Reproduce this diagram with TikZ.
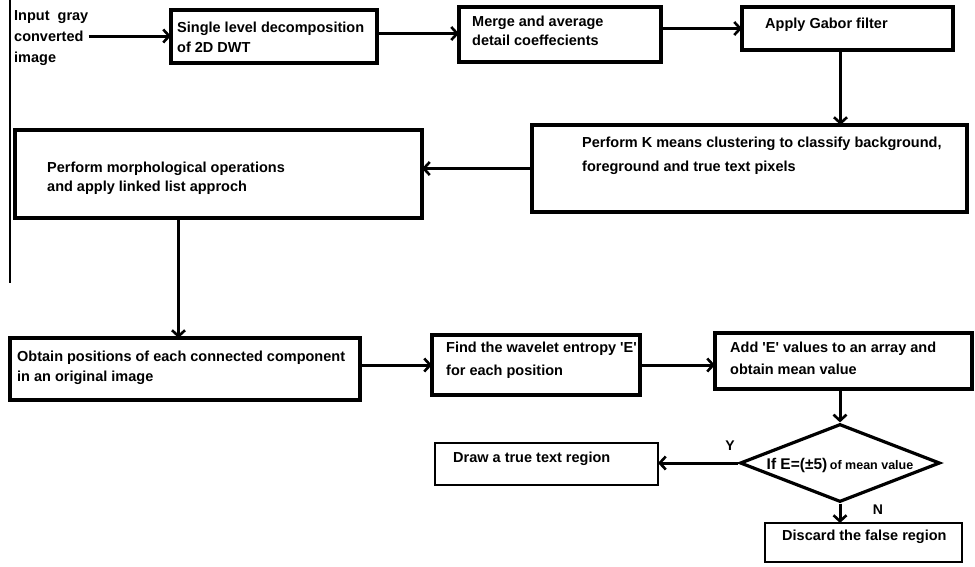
\documentclass[tikz,border=0pt]{standalone}
\usepackage{fontspec}
\setmainfont{Liberation Sans}
\usetikzlibrary{arrows.meta,shapes.geometric,calc}
\begin{document}
\begin{tikzpicture}[x=1pt,y=-1pt,
  box/.style={draw,line width=3.2pt,rectangle,inner sep=0pt,outer sep=0pt,anchor=north west},
  thinbox/.style={box,line width=2.4pt},
  txt/.style={anchor=north west,inner sep=0pt,align=left,font=\fontsize{14.5}{20}\selectfont\bfseries},
  conn/.style={line width=3pt,-{Straight Barb[length=6pt,width=13pt,line width=2.6pt]}},
  lbl/.style={inner sep=0pt,font=\fontsize{14}{16}\selectfont\bfseries}
]
\useasboundingbox (0,0) rectangle (975,566);

% left edge line
\draw[line width=1.3pt] (10,0) -- (10,283);

% input text
\node[txt,font=\fontsize{14.5}{21}\selectfont\bfseries] (inp) at (14,10) {Input\ \ gray\\converted\\image};

% boxes
\node[box,minimum width=206pt,minimum height=53pt] (b1) at (171,10) {};
\node[txt] (b1t) at (177,21.5) {Single level decomposition\\of 2D DWT};

\node[box,minimum width=202pt,minimum height=55pt] (b2) at (459,7) {};
\node[txt,font=\fontsize{14.5}{19}\selectfont\bfseries] (b2t) at (472,15.5) {Merge and average\\detail coeffecients};

\node[box,minimum width=211pt,minimum height=43pt] (b3) at (742,7) {};
\node[txt] (b3t) at (765,17.5) {Apply Gabor filter};

\node[box,minimum width=435pt,minimum height=87pt] (km) at (532,125) {};
\node[txt,font=\fontsize{14.5}{24}\selectfont\bfseries] (kmt) at (582,136.5) {Perform K means clustering to classify background,\\foreground and true text pixels};

\node[box,minimum width=407pt,minimum height=88pt] (mo) at (15,130) {};
\node[txt,font=\fontsize{14.5}{19}\selectfont\bfseries] (mot) at (47,161.5) {Perform morphological operations\\and apply linked list approch};

\node[box,minimum width=350pt,minimum height=62pt] (ob) at (10,338) {};
\node[txt] (obt) at (17,350.5) {Obtain positions of each connected component\\ in an original image};

\node[box,minimum width=208pt,minimum height=60pt] (fi) at (432,335) {};
\node[txt,font=\fontsize{14.5}{23}\selectfont\bfseries] (fit) at (446,341.5) {Find the wavelet entropy \textquotesingle E\textquotesingle\\for each position};

\node[box,minimum width=257pt,minimum height=56pt] (ad) at (715,333) {};
\node[txt,font=\fontsize{14.5}{22}\selectfont\bfseries] (adt) at (730,341.5) {Add \textquotesingle E\textquotesingle\ values to an array and\\obtain mean value};

\node[diamond,draw,line width=3.2pt,minimum width=200pt,minimum height=78pt,inner sep=0pt] (dia) at (840,463) {};
\node[inner sep=0pt] (diat) at (840,465) {\fontsize{15.5}{18}\selectfont\bfseries If E=(±5)\,{\fontsize{12.5}{15}\selectfont of mean value}};

\node[thinbox,minimum width=223pt,minimum height=42pt] (dr) at (435,443) {};
\node[txt] (drt) at (453,451.5) {Draw a true text region};

\node[thinbox,minimum width=197pt,minimum height=39pt] (di) at (765,523) {};
\node[txt] (dit) at (782,529.5) {Discard the false region};

\node[lbl] (ylab) at (730,446) {Y};
\node[lbl] (nlab) at (878,510) {N};

% connectors
\draw[conn] (inp.east |- 0,36) -- (b1.west |- 0,36);
\draw[conn] ([yshift=3pt]b1.east) -- ([yshift=3pt]b1.east -| b2.west);
\draw[conn] (b2.east |- b3.west) -- (b3.west);
\draw[conn] ([xshift=-7pt]b3.south) -- ([xshift=-7pt]b3.south |- km.north);
\draw[conn] (km.west) -- (km.west -| mo.east);
\draw[conn] ([xshift=-40pt]mo.south) -- ([xshift=-40pt]mo.south |- ob.north);
\draw[conn] (fi.west -| ob.east) -- (fi.west);
\draw[conn] (fi.east) -- (fi.east -| ad.west);
\draw[conn] (dia.north |- ad.south) -- (dia.north);
\draw[conn] (dia.west) -- (dia.west -| dr.east);
\draw[conn] (dia.south) -- (dia.south |- di.north);
\end{tikzpicture}
\end{document}
